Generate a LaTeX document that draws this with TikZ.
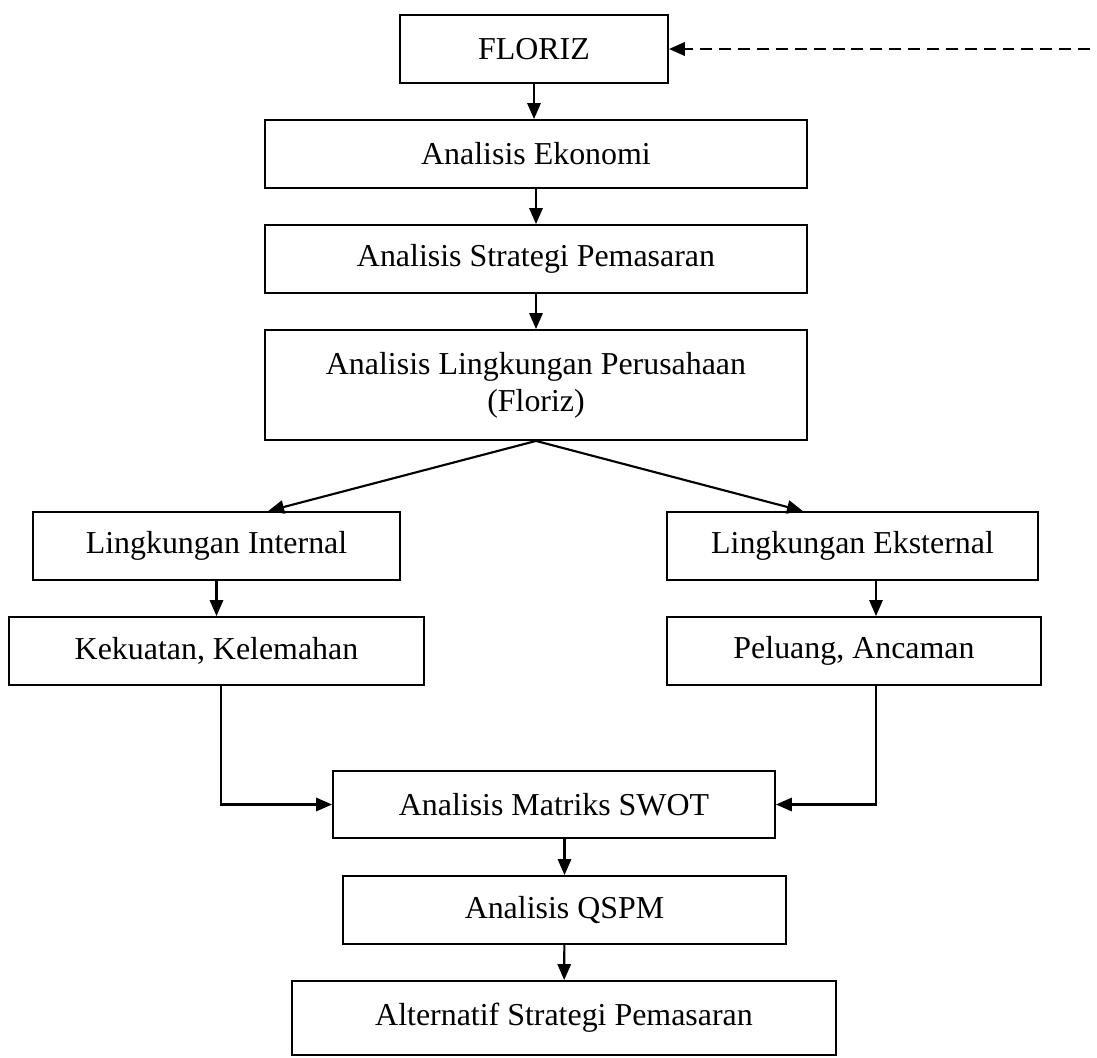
\documentclass[tikz,border=0pt]{standalone}
\usepackage{fontspec}
\setmainfont{Liberation Serif}
\usetikzlibrary{arrows.meta,calc}
\newcommand{\pxu}{0.376pt}
\begin{document}
\begin{tikzpicture}[x=\pxu,y=-\pxu,
    box/.style={draw,line width=0.7pt,align=center,inner sep=0pt,font=\fontsize{12}{14}\selectfont},
    arr/.style={line width=0.8pt,-{Triangle[length=6pt,width=5pt]}}]
  \useasboundingbox (0,0) rectangle (1097,1058);
  \node[box,minimum width=268*\pxu,minimum height=68*\pxu] at (534,49) (flo) {FLORIZ};
  \node[box,minimum width=542*\pxu,minimum height=68*\pxu] at (536,154) (eko) {Analisis Ekonomi};
  \node[box,minimum width=542*\pxu,minimum height=68*\pxu] at (536,259) (str) {Analisis Strategi Pemasaran};
  \node[box,minimum width=542*\pxu,minimum height=110*\pxu] at (536,385) (lkp) {Analisis Lingkungan Perusahaan\\(Floriz)};
  \node[box,minimum width=367*\pxu,minimum height=68*\pxu] at (216.5,546) (intl) {Lingkungan Internal};
  \node[box,minimum width=371*\pxu,minimum height=68*\pxu] at (852.5,546) (ext) {Lingkungan Eksternal};
  \node[box,minimum width=415*\pxu,minimum height=68*\pxu] at (216.5,651) (kek) {Kekuatan, Kelemahan};
  \node[box,minimum width=374*\pxu,minimum height=68*\pxu] at (854,651) (pel) {Peluang, Ancaman};
  \node[box,minimum width=442*\pxu,minimum height=67*\pxu] at (554,804.5) (swot) {Analisis Matriks SWOT};
  \node[box,minimum width=443*\pxu,minimum height=68*\pxu] at (564.5,910) (qspm) {Analisis QSPM};
  \node[box,minimum width=544*\pxu,minimum height=74*\pxu] at (564,1018) (alt) {Alternatif Strategi Pemasaran};
  % panah masuk dari luar
  \coordinate (src) at (1090,49);
  \draw[arr,line width=1pt,dash pattern=on 4.5pt off 2.6pt] (src) -- (flo.east);
  \draw[arr] (flo) -- (eko.north -| flo);
  \draw[arr] (eko) -- (str);
  \draw[arr] (str) -- (lkp);
  \draw[arr] (lkp.south) -- ($(intl.north west)!0.64!(intl.north east)$);
  \draw[arr] (lkp.south) -- ($(ext.north west)!0.367!(ext.north east)$);
  \draw[arr] (intl) -- (kek);
  \coordinate (lcol) at (221,0);
  \coordinate (rcol) at (876,0);
  \draw[arr] (ext.south -| rcol) -- (pel.north -| rcol);
  \draw[arr] (kek.south -| lcol) |- (swot.west);
  \draw[arr] (pel.south -| rcol) |- (swot.east);
  \draw[arr] (swot.south -| qspm.north) -- (qspm.north);
  \draw[arr] (qspm) -- (alt);
\end{tikzpicture}
\end{document}
